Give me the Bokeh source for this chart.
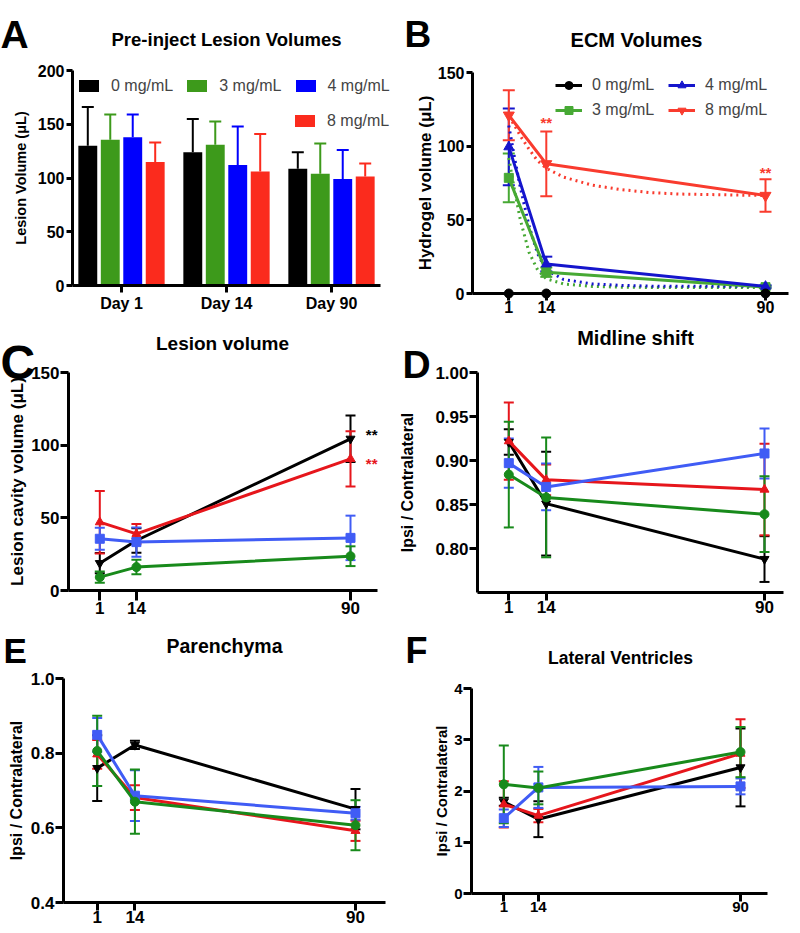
from bokeh.plotting import figure
from bokeh.models import (FixedTicker, Whisker, TeeHead, ColumnDataSource, Legend,
                          LegendItem, Label, NumeralTickFormatter, Range1d)
from bokeh.layouts import column, row
from bokeh.transform import dodge
from bokeh.core.properties import value
from bokeh.embed import file_html
from bokeh.resources import INLINE

FONT = "Liberation Sans"

# ------------------------------------------------------------------ data
groups = ["0 mg/mL", "3 mg/mL", "4 mg/mL", "8 mg/mL"]
days = [1, 14, 90]

# A  Pre-inject lesion volumes (mean, SEM upper bar)
A_labels = ["Day 1", "Day 14", "Day 90"]
A_pos = [1, 2, 3]
A_0 = [130, 124, 108.5]
A_3 = [135.5, 131, 104]
A_4 = [138, 112, 99]
A_8 = [115, 106, 101.5]
A_0_err = [36, 31, 15.5]
A_3_err = [23.5, 21.5, 28]
A_4_err = [21, 36, 27]
A_8_err = [18, 35, 12]

# B  ECM volumes
B_0 = [0, 0, 0]
B_3 = [78.5, 14.5, 4.3]
B_4 = [99.5, 20.0, 4.8]
B_8 = [121, 88, 66.5]
B_3_err = [16.5, 3.2, 0.8]
B_4_err = [26, 5, 0.8]
B_8_err = [17, 22, 11]
B_fit_x = [1, 3, 5, 8, 11, 14, 20, 30, 40, 50, 60, 75, 90]
B_fit_3 = [92, 70, 50, 28, 16, 10, 6.5, 4.8, 4.3, 4.1, 4, 4, 4]
B_fit_4 = [114, 92, 72, 46, 27, 16, 9.5, 6.5, 5.5, 5, 5, 5, 5]
B_fit_8 = [120, 114, 107, 98, 90, 85, 79, 73.5, 70.5, 68.5, 67.5, 67, 66.5]
B_star_x = [14, 90]
B_star_y = [116, 82]

# C  Lesion volume
C_0 = [18.8, 34.4, 104.4]
C_3 = [9.2, 16.1, 23.6]
C_4 = [35.6, 33.3, 36.2]
C_8 = [47, 39, 90.6]
C_0_err = [7, 8.5, 16]
C_3_err = [3.8, 5, 6.8]
C_4_err = [7.5, 10, 15.3]
C_8_err = [21.5, 6.8, 19]
C_star_x = [97.5, 97.5]
C_star_y = [107, 87.5]

# D  Midline shift
D_0 = [0.921, 0.851, 0.788]
D_3 = [0.884, 0.858, 0.839]
D_4 = [0.897, 0.870, 0.908]
D_8 = [0.922, 0.878, 0.867]
D_0_err = [0.0145, 0.059, 0.026]
D_3_err = [0.060, 0.068, 0.043]
D_4_err = [0.028, 0.0265, 0.0285]
D_8_err = [0.044, 0.0175, 0.052]

# E  Parenchyma
E_0 = [0.760, 0.822, 0.650]
E_3 = [0.806, 0.670, 0.607]
E_4 = [0.849, 0.686, 0.639]
E_8 = [0.797, 0.681, 0.592]
E_0_err = [0.088, 0.011, 0.054]
E_3_err = [0.094, 0.086, 0.067]
E_4_err = [0.045, 0.068, 0.017]
E_8_err = [0.0385, 0.033, 0.027]

# F  Lateral ventricles
F_0 = [1.79, 1.45, 2.46]
F_3 = [2.13, 2.06, 2.76]
F_4 = [1.47, 2.07, 2.09]
F_8 = [1.74, 1.52, 2.73]
F_0_err = [0.08, 0.35, 0.76]
F_3_err = [0.76, 0.32, 0.49]
F_4_err = [0.17, 0.40, 0.155]
F_8_err = [0.45, 0.13, 0.67]

# ------------------------------------------------------------------ styles
A_colors = ["#000000", "#3d9a1b", "#0000fd", "#fb2b1d"]
B_colors = ["#000000", "#47a934", "#1515cc", "#f93b2e"]
CF_colors = ["#000000", "#188a1b", "#405cf5", "#e6161c"]
B_markers = ["circle", "square", "triangle", "inverted_triangle"]
CF_markers = ["inverted_triangle", "circle", "square", "triangle"]


class Panel:
    """A figure whose frame fills the whole canvas; axes are drawn at fixed
    locations so that the page layout matches the reference."""

    def __init__(self, ox, oy, w, h, xcal, ycal, ax_px, ybounds):
        (d0, px0), (d1, px1) = xcal
        (v0, py0), (v1, py1) = ycal
        self.ox, self.oy, self.w, self.h = ox, oy, w, h
        sx = (px1 - px0) / (d1 - d0)
        sy = (py0 - py1) / (v1 - v0)
        xr = Range1d(d0 + (ox - px0) / sx, d0 + (ox + w - px0) / sx)
        yr = Range1d(v0 + (py0 - (oy + h)) / sy, v0 + (py0 - oy) / sy)
        p = figure(width=w, height=h, x_range=xr, y_range=yr, output_backend="svg",
                   toolbar_location=None, min_border=0)
        p.outline_line_color = None
        p.xgrid.visible = False
        p.ygrid.visible = False
        p.background_fill_color = "white"
        p.border_fill_color = "white"
        x_lo = d0 + (ax_px[0] - px0) / sx
        x_hi = d0 + (ax_px[1] - px0) / sx
        p.xaxis.fixed_location = ybounds[0]
        p.yaxis.fixed_location = x_lo
        p.xaxis.bounds = (x_lo, x_hi)
        p.yaxis.bounds = ybounds
        for ax in (p.xaxis, p.yaxis):
            ax.axis_line_width = 3
            ax.axis_line_color = "black"
            ax.major_tick_line_width = 3
            ax.major_tick_line_color = "black"
            ax.major_tick_in = 0
            ax.minor_tick_line_color = None
            ax.major_label_text_font = FONT
            ax.major_label_text_font_style = "bold"
            ax.major_label_text_color = "black"
            ax.axis_label_text_font = FONT
            ax.axis_label_text_font_style = "bold"
            ax.axis_label_text_color = "black"
        self.p = p

    def axes(self, xticks, yticks, ylabel, ylab_size, ylab_standoff, tick_size,
             xtick_out, xstand, ytick_out, ystand):
        p = self.p
        p.xaxis.ticker = FixedTicker(ticks=xticks)
        p.yaxis.ticker = FixedTicker(ticks=yticks)
        p.xaxis.major_tick_out = xtick_out
        p.xaxis.major_label_standoff = xstand
        p.yaxis.major_tick_out = ytick_out
        p.yaxis.major_label_standoff = ystand
        p.xaxis.major_label_text_font_size = tick_size
        p.yaxis.major_label_text_font_size = tick_size
        p.yaxis.axis_label = ylabel
        p.yaxis.axis_label_text_font_size = ylab_size
        p.yaxis.axis_label_standoff = ylab_standoff

    def sx(self, px):
        return px - self.ox

    def sy(self, py):
        return self.oy + self.h - py

    def text(self, px, baseline_py, text, size_px, align="left"):
        # anchor at the middle of the capitals
        py = baseline_py - 0.355 * size_px
        self.p.add_layout(Label(x=self.sx(px), y=self.sy(py), x_units="screen",
                                y_units="screen", text=text, text_font=FONT,
                                text_font_size=f"{size_px}px", text_font_style="bold",
                                text_align=align, text_baseline="middle",
                                text_color="black"))


def series(p, x, y, err, color, marker, size, lw, cap, ewidth):
    src = ColumnDataSource(dict(x=x, y=y,
                                lo=[a - b for a, b in zip(y, err)],
                                hi=[a + b for a, b in zip(y, err)]))
    p.add_layout(Whisker(source=src, base="x", lower="lo", upper="hi",
                         line_color=color, line_width=ewidth,
                         upper_head=TeeHead(size=cap, line_color=color, line_width=ewidth),
                         lower_head=TeeHead(size=cap, line_color=color, line_width=ewidth)))
    r1 = p.line("x", "y", source=src, line_color=color, line_width=lw)
    r2 = p.scatter("x", "y", source=src, marker=marker, size=size,
                   fill_color=color, line_color=color)
    return r1, r2


# ------------------------------------------------------------------ A
PA = Panel(0, 0, 400, 318, ((1, 121), (3, 331)), ((0, 285), (200, 70)), (72, 380), (0, 200))
pA = PA.p
PA.axes(A_pos, [0, 50, 100, 150, 200], "Lesion Volume (\u03bcL)", "14.5px", 6, "16px",
        7, 2, 6, 2)
pA.xaxis.major_label_overrides = {pos: lab for pos, lab in zip(A_pos, A_labels)}
srcA = ColumnDataSource(dict(pos=A_pos, m0=A_0, m3=A_3, m4=A_4, m8=A_8,
                             t0=[a + b for a, b in zip(A_0, A_0_err)],
                             t3=[a + b for a, b in zip(A_3, A_3_err)],
                             t4=[a + b for a, b in zip(A_4, A_4_err)],
                             t8=[a + b for a, b in zip(A_8, A_8_err)]))
offsets = [-0.321, -0.107, 0.107, 0.321]
A_rend = []
for key, off, col in zip(["0", "3", "4", "8"], offsets, A_colors):
    pA.add_layout(Whisker(source=srcA, base=dodge("pos", off, range=pA.x_range),
                          lower="m" + key, upper="t" + key, line_color=col, line_width=2,
                          upper_head=TeeHead(size=12, line_color=col, line_width=2),
                          lower_head=None))
    r = pA.vbar(x=dodge("pos", off, range=pA.x_range), top="m" + key, width=0.18,
                source=srcA, fill_color=col, line_color=None)
    A_rend.append(r)

legA_kw = dict(border_line_color=None, background_fill_alpha=0, padding=0, margin=0,
               label_text_font=FONT, label_text_font_size="16px", label_standoff=10,
               glyph_width=25, glyph_height=15, spacing=11, orientation="horizontal")
pA.add_layout(Legend(items=[LegendItem(label=groups[i], renderers=[A_rend[i]]) for i in range(3)],
                     location=(PA.sx(76), PA.sy(94.5)), **legA_kw))
pA.add_layout(Legend(items=[LegendItem(label=groups[3], renderers=[A_rend[3]])],
                     location=(PA.sx(292), PA.sy(129.5)), **legA_kw))
PA.text(0, 48, "A", 39)
PA.text(226, 45.5, "Pre-inject Lesion Volumes", 18.5, "center")

# ------------------------------------------------------------------ B
PB = Panel(400, 0, 400, 318, ((1, 508.3), (90, 765)), ((0, 293), (150, 72)), (472, 788), (0, 150))
pB = PB.p
PB.axes(days, [0, 50, 100, 150], "Hydrogel volume (\u03bcL)", "17px", 0, "16px",
        7, 0, 6, 2)
for fy, col in zip([B_fit_3, B_fit_4, B_fit_8], B_colors[1:]):
    pB.line(B_fit_x, fy, line_color=col, line_width=3, line_dash="2 4")
B_items = []
for y, err, col, mk, sz in zip([B_0, B_3, B_4, B_8], [None, B_3_err, B_4_err, B_8_err],
                               B_colors, B_markers, [9, 9, 10, 11]):
    if err is None:
        src = ColumnDataSource(dict(x=days, y=y))
        r1 = pB.line("x", "y", source=src, line_color=col, line_width=3, level="overlay")
        r2 = pB.scatter("x", "y", source=src, marker=mk, size=sz, fill_color=col,
                        line_color=col, level="overlay")
    else:
        r1, r2 = series(pB, days, y, err, col, mk, sz, 3, 12, 2)
    B_items.append((r1, r2))
pB.text(x=B_star_x, y=B_star_y, text=["**", "**"], text_color=B_colors[3],
        text_font=value(FONT), text_font_size="15px", text_font_style="bold",
        text_align="center", text_baseline="middle")
legB_kw = dict(border_line_color=None, background_fill_alpha=0, padding=0, margin=0,
               label_text_font=FONT, label_text_font_size="16px", label_standoff=10,
               glyph_width=27, glyph_height=20, spacing=5, orientation="vertical")
pB.add_layout(Legend(items=[LegendItem(label=groups[i], renderers=list(B_items[i])) for i in (0, 1)],
                     location=(PB.sx(555), PB.sy(120)), **legB_kw))
pB.add_layout(Legend(items=[LegendItem(label=groups[i], renderers=list(B_items[i])) for i in (2, 3)],
                     location=(PB.sx(668), PB.sy(120)), **legB_kw))
PB.text(404, 47, "B", 37)
PB.text(636, 47, "ECM Volumes", 20, "center")

# ------------------------------------------------------------------ C
PC = Panel(0, 318, 400, 302, ((1, 99.3), (90, 350)), ((0, 590), (150, 372)), (68, 377), (0, 150))
pC = PC.p
PC.axes(days, [0, 50, 100, 150], "Lesion cavity volume (\u03bcL)", "17px", 1, "17px",
        10, 1, 8, 1)
order = [0, 3, 2, 1]
C_vals = [C_0, C_3, C_4, C_8]
C_errs = [C_0_err, C_3_err, C_4_err, C_8_err]
for i in order:
    series(pC, days, C_vals[i], C_errs[i], CF_colors[i], CF_markers[i], 9, 3, 10, 2)
pC.text(x=C_star_x, y=C_star_y, text=["**", "**"], text_color=[CF_colors[0], CF_colors[3]],
        text_font=value(FONT), text_font_size="15px", text_font_style="bold",
        text_align="center", text_baseline="middle")
PC.text(0, 379, "C", 48)
PC.text(222, 350, "Lesion volume", 19, "center")

# ------------------------------------------------------------------ D
PD = Panel(400, 318, 400, 302, ((1, 508.3), (90, 764)), ((0.80, 548), (1.00, 372)), (477, 783), (0.75, 1.00))
pD = PD.p
PD.axes(days, [0.80, 0.85, 0.90, 0.95, 1.00], "Ipsi / Contralateral", "16px", 16, "17px",
        8, 0, 8, 1)
pD.yaxis.formatter = NumeralTickFormatter(format="0.00")
D_vals = [D_0, D_3, D_4, D_8]
D_errs = [D_0_err, D_3_err, D_4_err, D_8_err]
for i in order:
    series(pD, days, D_vals[i], D_errs[i], CF_colors[i], CF_markers[i], 9, 3, 10, 2)
PD.text(402, 378, "D", 39)
PD.text(635, 345, "Midline shift", 20, "center")

# ------------------------------------------------------------------ E
PE = Panel(0, 620, 400, 310, ((1, 96.7), (90, 355)), ((0.4, 902), (1.0, 678)), (63, 385), (0.4, 1.0))
pE = PE.p
PE.axes(days, [0.4, 0.6, 0.8, 1.0], "Ipsi / Contralateral", "16px", 3, "17px",
        8, 0, 8, 1)
pE.yaxis.formatter = NumeralTickFormatter(format="0.0")
E_vals = [E_0, E_3, E_4, E_8]
E_errs = [E_0_err, E_3_err, E_4_err, E_8_err]
for i in order:
    series(pE, days, E_vals[i], E_errs[i], CF_colors[i], CF_markers[i], 9, 3, 10, 2)
PE.text(3, 662, "E", 35)
PE.text(224, 652, "Parenchyma", 19.5, "center")

# ------------------------------------------------------------------ F
PF = Panel(400, 620, 400, 310, ((1, 503.3), (90, 740)), ((0, 893), (4, 688)), (471, 767), (0, 4))
pF = PF.p
PF.axes(days, [0, 1, 2, 3, 4], "Ipsi / Contralateral", "15px", 1, "15px",
        8, 0, 8, 1)
F_vals = [F_0, F_3, F_4, F_8]
F_errs = [F_0_err, F_3_err, F_4_err, F_8_err]
for i in order:
    series(pF, days, F_vals[i], F_errs[i], CF_colors[i], CF_markers[i], 9, 3, 10, 2)
PF.text(405, 663, "F", 36)
PF.text(620, 664, "Lateral Ventricles", 17.5, "center")

layout = column(row(pA, pB), row(pC, pD), row(pE, pF))
open("out.html", "w").write(file_html(layout, INLINE))
